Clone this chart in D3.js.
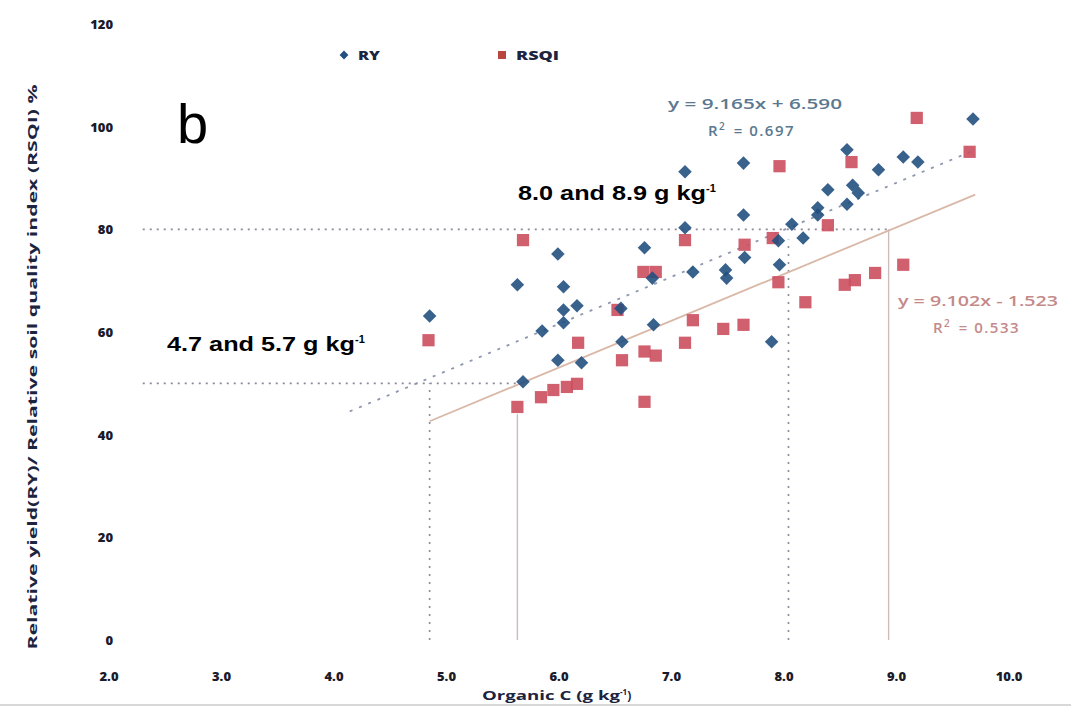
<!DOCTYPE html>
<html>
<head>
  <meta charset="utf-8">
  <title>RY / RSQI vs Organic C</title>
  <style>
    body { margin: 0; background: #fff; }
    .tick-label { font-family: "Open Sans", sans-serif; font-weight: 800; font-size: 13px; fill: #1b1b2a; }
    .axis-title { font-family: "Open Sans", sans-serif; font-weight: 700; font-size: 12px; fill: #1c2440; }
    .note { font-family: "Liberation Sans", Arial, sans-serif; font-weight: 700; font-size: 21px; fill: #000; }
    .legend { font-family: "Open Sans", sans-serif; font-weight: 800; font-size: 12px; fill: #1c2440; }
    .eq { font-family: "Open Sans", sans-serif; font-weight: 600; font-size: 15px; }
  </style>
  <script src="https://d3js.org/d3.v7.min.js"></script>
</head>
<body>
  <script>
    // data
    var xTicks = [2, 3, 4, 5, 6, 7, 8, 9, 10];
    var yTicks = [0, 20, 40, 60, 80, 100, 120];

    var ryX = [4.85, 5.63, 5.99, 6.04, 6.04, 6.16, 6.04, 5.85, 5.99, 6.20, 5.68, 6.56, 6.55, 6.84, 6.76, 6.83,
               7.12, 7.12, 7.19, 7.48, 7.49, 7.65, 7.64, 7.64, 7.95, 7.96, 7.89, 8.07, 8.17, 8.30, 8.30,
               8.39, 8.56, 8.56, 8.61, 8.66, 8.84, 9.06, 9.19, 9.68];
    var ryY = [63.1, 69.2, 75.2, 68.8, 64.3, 65.1, 61.8, 60.2, 54.5, 54.0, 50.3, 58.1, 64.6, 61.4, 76.4, 70.5,
               91.2, 80.3, 71.7, 72.1, 70.5, 74.5, 92.9, 82.8, 77.8, 73.1, 58.1, 81.0, 78.3, 84.2, 82.8,
               87.7, 84.9, 95.5, 88.6, 87.1, 91.6, 94.1, 93.1, 101.5];

    var rsqiX = [4.84, 5.63, 5.68, 5.84, 5.95, 6.07, 6.16, 6.17, 6.52, 6.56, 6.76, 6.75, 6.86, 6.76, 6.86,
                 7.12, 7.19, 7.12, 7.46, 7.64, 7.65, 7.90, 7.95, 7.96, 8.19, 8.39, 8.54, 8.63, 8.60, 8.81,
                 9.06, 9.18, 9.65];
    var rsqiY = [58.4, 45.4, 77.9, 47.3, 48.7, 49.3, 49.9, 57.9, 64.3, 54.5, 46.4, 71.7, 71.7, 56.2, 55.4,
                 57.9, 62.3, 77.9, 60.6, 61.4, 77.0, 78.3, 69.7, 92.3, 65.8, 80.8, 69.2, 70.1, 93.1, 71.5,
                 73.1, 101.7, 95.1];

    // fitted lines (slope, intercept) and the x span they are drawn over
    var ryFit = [9.165, 6.590];
    var ryFitRange = [4.14, 9.7];
    var rsqiFit = [9.102, -1.523];
    var rsqiFitRange = [4.85, 9.7];

    // threshold guide lines
    var guideH = [[80, 2.3, 8.93], [50, 2.3, 5.63]];
    var guideV = [[4.85, 50, 'dot'], [5.63, 44, 'solid'], [8.04, 78, 'dot'], [8.93, 80, 'solid']];

    var width = 1071, height = 708;
    var svg = d3.select('body').append('svg')
      .attr('width', width).attr('height', height);

    var x = d3.scaleLinear().domain([2, 10]).range([109, 1009]);
    var y = d3.scaleLinear().domain([0, 120]).range([640, 24]);

    // tick labels only, the original has no axis lines
    svg.selectAll('.ytick').data(yTicks).enter().append('text')
      .attr('class', 'tick-label')
      .attr('x', 113).attr('y', d => y(d) + 5)
      .attr('text-anchor', 'end')
      .text(d => d);
    svg.selectAll('.xtick').data(xTicks).enter().append('text')
      .attr('class', 'tick-label')
      .attr('x', d => x(d)).attr('y', 681)
      .attr('text-anchor', 'middle')
      .text(d => d.toFixed(1));

    // axis titles
    var xt = svg.append('text').attr('class', 'axis-title')
      .attr('x', 482).attr('y', 700);
    xt.append('tspan').attr('textLength', 138).attr('lengthAdjust', 'spacingAndGlyphs').text('Organic C (g kg');
    xt.append('tspan').attr('dy', -5).attr('font-size', 8).text('-1');
    xt.append('tspan').attr('dy', 5).text(')');

    svg.append('text').attr('class', 'axis-title')
      .attr('transform', 'translate(37,367) rotate(-90)')
      .attr('text-anchor', 'middle')
      .attr('textLength', 565).attr('lengthAdjust', 'spacingAndGlyphs')
      .text('Relative yield(RY)/ Relative soil quality index (RSQI) %');

    // guide lines
    svg.selectAll('.gh').data(guideH).enter().append('line')
      .attr('x1', d => x(d[1])).attr('x2', d => x(d[2]))
      .attr('y1', d => y(d[0])).attr('y2', d => y(d[0]))
      .attr('stroke', '#8a8a9a').attr('stroke-width', 1.6)
      .attr('stroke-dasharray', '2,5');
    svg.selectAll('.gv').data(guideV).enter().append('line')
      .attr('x1', d => x(d[0])).attr('x2', d => x(d[0]))
      .attr('y1', y(0)).attr('y2', d => y(d[1]))
      .attr('stroke', d => d[2] == 'dot' ? '#8a8a9a' : '#cdbcbc')
      .attr('stroke-width', d => d[2] == 'dot' ? 1.6 : 1.4)
      .attr('stroke-dasharray', d => d[2] == 'dot' ? '2,6' : null);

    // trend lines
    function fitLine(f, r) {
      return [[r[0], f[0] * r[0] + f[1]], [r[1], f[0] * r[1] + f[1]]];
    }
    var line = d3.line().x(d => x(d[0])).y(d => y(d[1]));
    svg.append('path').datum(fitLine(ryFit, ryFitRange))
      .attr('d', line).attr('fill', 'none')
      .attr('stroke', '#8f97b0').attr('stroke-width', 1.8)
      .attr('stroke-dasharray', '3,7');
    svg.append('path').datum(fitLine(rsqiFit, rsqiFitRange))
      .attr('d', line).attr('fill', 'none')
      .attr('stroke', '#d9b8a8').attr('stroke-width', 1.8);

    // markers
    var ry = ryX.map((v, i) => [v, ryY[i]]);
    var rsqi = rsqiX.map((v, i) => [v, rsqiY[i]]);
    var sq = d3.symbol().type(d3.symbolSquare).size(150);
    var dia = d3.symbol().type(d3.symbolSquare).size(92);

    svg.selectAll('.rsqi').data(rsqi).enter().append('path')
      .attr('d', sq)
      .attr('transform', d => 'translate(' + x(d[0]) + ',' + y(d[1]) + ')')
      .attr('fill', '#cc4f5f').attr('opacity', 0.9);
    svg.selectAll('.ry').data(ry).enter().append('path')
      .attr('d', dia)
      .attr('transform', d => 'translate(' + x(d[0]) + ',' + y(d[1]) + ') rotate(45)')
      .attr('fill', '#22507e').attr('opacity', 0.9);

    // legend
    svg.append('path').attr('d', dia).attr('transform', 'translate(344,55) rotate(45) scale(0.65)').attr('fill', '#22507e');
    svg.append('text').attr('class', 'legend').attr('x', 358).attr('y', 60)
      .attr('textLength', 22).attr('lengthAdjust', 'spacingAndGlyphs').text('RY');
    svg.append('path').attr('d', sq).attr('transform', 'translate(502,55) scale(0.65)').attr('fill', '#b8463f');
    svg.append('text').attr('class', 'legend').attr('x', 516).attr('y', 60)
      .attr('textLength', 43).attr('lengthAdjust', 'spacingAndGlyphs').text('RSQI');

    // panel letter
    svg.append('text').attr('x', 177).attr('y', 143)
      .attr('font-family', 'Liberation Sans, Arial, sans-serif').attr('font-size', 56)
      .text('b');

    // annotations
    function note(tx, ty, txt) {
      var t = svg.append('text').attr('class', 'note').attr('x', tx).attr('y', ty);
      t.append('tspan').attr('textLength', 188).attr('lengthAdjust', 'spacingAndGlyphs').text(txt);
      t.append('tspan').attr('dy', -8).attr('font-size', 11).text('-1');
    }
    note(518, 200, '8.0 and 8.9 g kg');
    note(167, 351, '4.7 and 5.7 g kg');

    // equations
    function eq(cx, ty, txt, col, len) {
      svg.append('text').attr('class', 'eq').attr('x', cx).attr('y', ty)
        .attr('text-anchor', 'middle').attr('fill', col)
        .attr('textLength', len).attr('lengthAdjust', 'spacingAndGlyphs')
        .text(txt);
    }
    function rsq(x0, ty, val, col) {
      var t = svg.append('text').attr('class', 'eq').attr('x', x0).attr('y', ty)
        .attr('fill', col).attr('letter-spacing', 1.5);
      t.append('tspan').text('R');
      t.append('tspan').attr('dy', -6).attr('font-size', 10).text('2');
      t.append('tspan').attr('dy', 6).attr('dx', 2).text(' = ' + val);
    }
    eq(755, 109, 'y = 9.165x + 6.590', '#5b7890', 174);
    rsq(708, 136, '0.697', '#5b7890');
    eq(978, 306, 'y = 9.102x - 1.523', '#c48a8a', 160);
    rsq(933, 333, '0.533', '#c48a8a');

    // faint frame edge at the bottom of the scan
    svg.append('line').attr('x1', 0).attr('x2', width).attr('y1', 705).attr('y2', 705)
      .attr('stroke', '#d8d8d8').attr('stroke-width', 2);
  </script>
</body>
</html>
